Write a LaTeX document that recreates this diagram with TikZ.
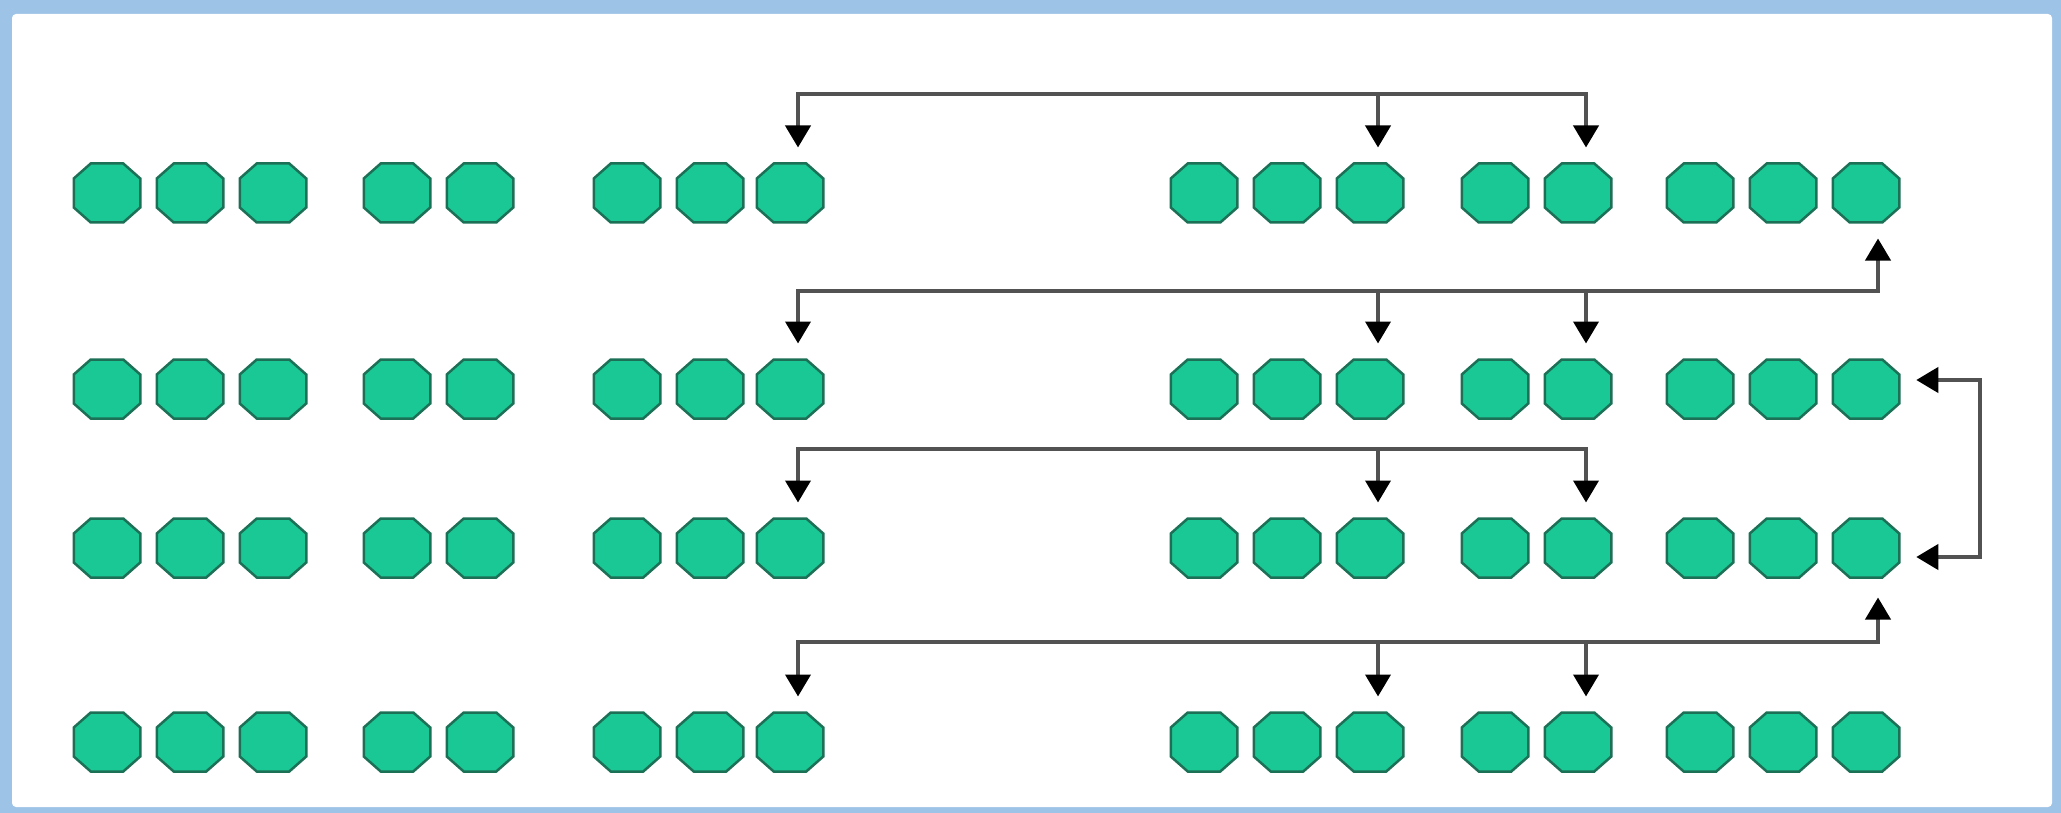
\documentclass[tikz,border=0pt]{standalone}
\usetikzlibrary{arrows.meta}
\definecolor{cellgreen}{RGB}{26,200,150}
\definecolor{celldark}{RGB}{28,112,86}
\definecolor{framblue}{RGB}{157,195,230}
\begin{document}
\begin{tikzpicture}[x=1pt, y=-1pt,
    >={Triangle[width=25pt, length=22pt, color=black]},
    cellbox/.style={minimum width=66.5pt, minimum height=59pt, inner sep=0pt, outer sep=0pt},
    cell/.style={draw=celldark, fill=cellgreen, line width=2.5pt},
    wire/.style={draw=black!68, line width=4pt}]
  \fill[framblue] (0,0) rectangle (2061,813);
  \fill[white, rounded corners=4pt] (12,14) rectangle (2052,807);
  \foreach \y [count=\r] in {193, 389, 548, 742} {
    \foreach \x [count=\c] in {107, 190, 273, 397, 480, 627, 710, 790, 1204, 1287, 1370, 1495, 1578, 1700, 1783, 1866} {
      \node[cellbox] (o-\r-\c) at (\x, \y) {};
      \filldraw[cell] ([xshift=17pt]o-\r-\c.north west) -- ([xshift=-17pt]o-\r-\c.north east)
        -- ([yshift=-15pt]o-\r-\c.north east) -- ([yshift=15pt]o-\r-\c.south east)
        -- ([xshift=-17pt]o-\r-\c.south east) -- ([xshift=17pt]o-\r-\c.south west)
        -- ([yshift=15pt]o-\r-\c.south west) -- ([yshift=-15pt]o-\r-\c.north west) -- cycle;
    }
  }
  \foreach \r/\by in {1/94, 2/291, 3/449, 4/642} {
    \foreach \c in {8, 11, 13} {
      \coordinate (t-\r-\c) at ([xshift=8pt, yshift=16pt]o-\r-\c.north);
      \coordinate (j-\r-\c) at (t-\r-\c |- 0,\by);
    }
    \draw[wire, ->] (j-\r-11) -- (t-\r-11);
  }
  \foreach \r in {1, 3} {
    \draw[wire, <->] (t-\r-8) -- (j-\r-8) -- (j-\r-13) -- (t-\r-13);
  }
  \foreach \r/\p/\d in {2/1/16, 4/3/20} {
    \coordinate (u-\r) at ([xshift=12pt, yshift=-\d pt]o-\p-16.south);
    \draw[wire, <->] (t-\r-8) -- (j-\r-8) -| (u-\r);
    \draw[wire, ->] (j-\r-13) -- (t-\r-13);
  }
  \coordinate (l-2) at ([xshift=17pt, yshift=9pt]o-2-16.east);
  \coordinate (l-3) at ([xshift=17pt, yshift=-9pt]o-3-16.east);
  \draw[wire, <->] (l-2) -- ++(64,0) |- (l-3);
\end{tikzpicture}
\end{document}
